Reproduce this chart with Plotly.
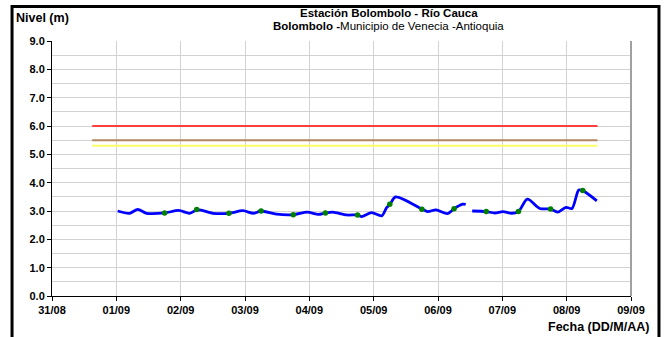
import plotly.graph_objects as go

# ---- data ----
nivel_tiempo = [
    "2010-09-01 00:30", "2010-09-01 05:00", "2010-09-01 08:00", "2010-09-01 11:15",
    "2010-09-01 18:00", "2010-09-01 23:15", "2010-09-02 03:20", "2010-09-02 06:00",
    "2010-09-02 07:40", "2010-09-02 12:00", "2010-09-02 18:00", "2010-09-02 23:15",
    "2010-09-03 03:10", "2010-09-03 06:00", "2010-09-03 11:45", "2010-09-03 18:00",
    "2010-09-03 23:15", "2010-09-04 03:20", "2010-09-04 06:00", "2010-09-04 08:40",
    "2010-09-04 14:00", "2010-09-04 18:00", "2010-09-04 19:30", "2010-09-04 23:15",
    "2010-09-05 03:00", "2010-09-05 04:50", "2010-09-05 06:00", "2010-09-05 08:10",
    "2010-09-05 18:00", "2010-09-05 20:10", "2010-09-05 23:15", "2010-09-06 03:35",
    "2010-09-06 06:00", "2010-09-06 09:10", "2010-09-06 10:20", "2010-09-06 11:30",
    "2010-09-06 12:45", "2010-09-06 18:00", "2010-09-06 21:10", "2010-09-07 00:15",
    "2010-09-07 03:20", "2010-09-07 06:00", "2010-09-07 09:20", "2010-09-07 14:00",
    "2010-09-07 18:00", "2010-09-07 20:40", "2010-09-07 23:45", "2010-09-08 02:00",
    "2010-09-08 04:30", "2010-09-08 06:00", "2010-09-08 11:15",
]
nivel_valor = [
    3.00, 2.92, 3.06, 2.92,
    2.93, 3.02, 2.92, 3.04,
    3.03, 2.92, 2.92, 3.01,
    2.92, 3.00, 2.89, 2.87,
    2.96, 2.88, 2.93, 2.96,
    2.86, 2.86, 2.80, 2.94,
    2.83, 3.12, 3.22, 3.50,
    3.07, 2.98, 3.04, 2.91,
    3.08, 3.24, 3.23, None,
    3.00, 2.98, 2.93, 2.98,
    2.92, 2.98, 3.42, 3.09,
    3.07, 2.96, 3.13, 3.09,
    3.74, 3.72, 3.36,
]

lectura_tiempo = [
    "2010-09-01 18:00", "2010-09-02 06:00", "2010-09-02 18:00", "2010-09-03 06:00",
    "2010-09-03 18:00", "2010-09-04 06:00", "2010-09-04 18:00", "2010-09-05 06:00",
    "2010-09-05 18:00", "2010-09-06 06:00", "2010-09-06 18:00", "2010-09-07 06:00",
    "2010-09-07 18:00", "2010-09-08 06:00",
]
lectura_valor = [2.93, 3.05, 2.92, 3.00, 2.87, 2.93, 2.86, 3.24, 3.06, 3.08, 2.98, 2.98, 3.07, 3.72]

umbral_tiempo = ["2010-08-31 15:00", "2010-09-08 11:30"]
umbral_rojo = [6.0, 6.0]
umbral_naranja = [5.5, 5.5]
umbral_amarillo = [5.3, 5.3]

x_rango = ["2010-08-31 00:00", "2010-09-09 00:00"]
y_rango = [0, 9]

FONT = "Liberation Sans, Arial, sans-serif"

# plot-area geometry in page pixels
PL, PR, PT, PB = 52, 631.5, 41, 296
PW, PH = PR - PL, PB - PT


def px(x):
    return (x - PL) / PW


def py(y):
    return (PB - y) / PH


fig = go.Figure()
fig.add_trace(go.Scatter(x=umbral_tiempo, y=umbral_rojo, mode="lines",
                         line=dict(color="#ff3f3f", width=2), hoverinfo="skip"))
fig.add_trace(go.Scatter(x=umbral_tiempo, y=umbral_naranja, mode="lines",
                         line=dict(color="#b08762", width=2), hoverinfo="skip"))
fig.add_trace(go.Scatter(x=umbral_tiempo, y=umbral_amarillo, mode="lines",
                         line=dict(color="#ffff66", width=2), hoverinfo="skip"))
fig.add_trace(go.Scatter(x=nivel_tiempo, y=nivel_valor, mode="lines",
                         line=dict(color="#0000ff", width=2.8, shape="spline", smoothing=0.8),
                         connectgaps=False))
fig.add_trace(go.Scatter(x=lectura_tiempo, y=lectura_valor, mode="markers",
                         marker=dict(color="#008000", size=5.5)))

tick_font = dict(family=FONT, size=11, color="black", weight="bold")
fig.update_layout(
    width=664, height=337,
    margin=dict(l=PL, r=664 - PR, t=PT, b=337 - PB),
    paper_bgcolor="white", plot_bgcolor="white",
    showlegend=False,
    font=dict(family=FONT, color="black"),
    xaxis=dict(type="date", range=x_rango, dtick=86400000, tickformat="%d/%m",
               showgrid=True, gridcolor="#d2d2d2", gridwidth=1,
               showline=True, linecolor="black", linewidth=1,
               ticks="outside", ticklen=4, tickcolor="black",
               tickfont=tick_font, zeroline=False, fixedrange=True),
    yaxis=dict(range=y_rango, dtick=1, tickformat=".1f",
               showgrid=True, gridcolor="#d2d2d2", gridwidth=1,
               minor=dict(dtick=0.5, showgrid=True, gridcolor="#d2d2d2", gridwidth=1),
               showline=True, linecolor="black", linewidth=1,
               ticks="outside", ticklen=4, tickcolor="black",
               tickfont=tick_font, zeroline=False, fixedrange=True),
)

# plot area right edge (gray) and outer frame
fig.add_shape(type="line", xref="paper", yref="paper", x0=1, x1=1, y0=0, y1=1,
              line=dict(color="#a0a0a0", width=2))
fig.add_shape(type="rect", xref="paper", yref="paper",
              x0=px(12), x1=px(659.5), y0=py(345), y1=py(6.5),
              line=dict(color="black", width=3), fillcolor="rgba(0,0,0,0)", layer="above")

fig.add_annotation(text="<b>Nivel (m)</b>", xref="paper", yref="paper",
                   x=px(14), y=py(18), xanchor="left", yanchor="middle",
                   showarrow=False, font=dict(family=FONT, size=12.5, color="black"))
fig.add_annotation(text="<b>Estación Bolombolo - Río Cauca</b>", xref="paper", yref="paper",
                   x=px(389), y=py(13), xanchor="center", yanchor="middle", borderpad=0,
                   showarrow=False, font=dict(family=FONT, size=11.5, color="black"))
fig.add_annotation(text="<b>Bolombolo -</b>Municipio de Venecia -Antioquia", xref="paper", yref="paper",
                   x=px(389), y=py(26), xanchor="center", yanchor="middle", borderpad=0,
                   showarrow=False, font=dict(family=FONT, size=11.5, color="black"))
fig.add_annotation(text="<b>Fecha (DD/M/AA)</b>", xref="paper", yref="paper",
                   x=px(652), y=py(327), xanchor="right", yanchor="middle",
                   showarrow=False, font=dict(family=FONT, size=12.5, color="black"))

fig.write_html("out.html", config={"displayModeBar": False},
               post_script="document.body.style.margin='0';")
